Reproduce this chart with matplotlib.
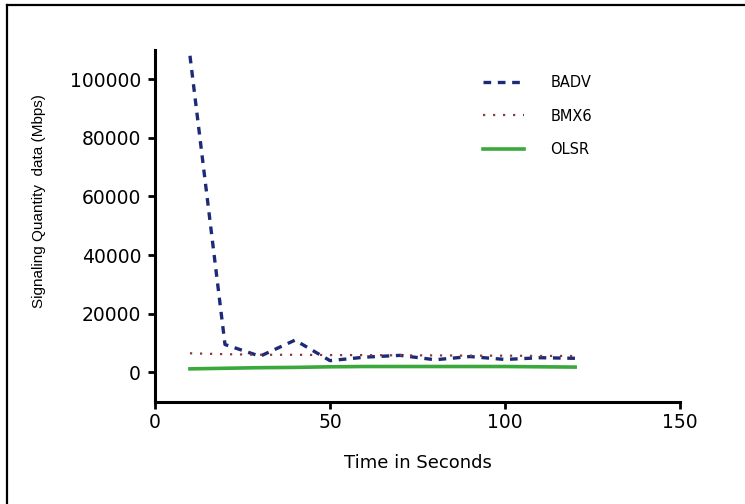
import matplotlib
matplotlib.use("Agg")
import matplotlib.pyplot as plt
from matplotlib.lines import Line2D

plt.rcParams['font.family'] = ['DejaVu Sans']

# Simulation time (s) and signalling overhead per protocol
time_s = [10, 20, 30, 40, 50, 60, 70, 80, 90, 100, 110, 120]
badv = [108000, 9500, 5500, 11000, 4000, 5200, 5800, 4300, 5400, 4400, 5000, 4800]
bmx6 = [6500, 6200, 6000, 6000, 5900, 5900, 5800, 5800, 5700, 5700, 5600, 5600]
olsr = [1200, 1400, 1600, 1700, 1900, 2000, 2000, 2000, 2000, 2000, 1900, 1800]

x_ticks = [0, 50, 100, 150]
y_ticks = [0, 20000, 40000, 60000, 80000, 100000]

fig = plt.figure(figsize=(7.45, 5.04), dpi=100)
ax = fig.add_axes([0.208, 0.203, 0.705, 0.698])

badv_style = dict(color='#1c2a78', lw=2.4, linestyle=(0, (2.3, 2.0)))
bmx6_style = dict(color='#8a3a3a', lw=1.6, linestyle=(0, (1, 3.5)))
olsr_style = dict(color='#3aa83a', lw=2.6)

ax.plot(time_s, badv, label='BADV', **badv_style)
ax.plot(time_s, bmx6, label='BMX6', **bmx6_style)
ax.plot(time_s, olsr, label='OLSR', **olsr_style)

ax.set_xlim(0, 150)
ax.set_ylim(-10000, 110000)
ax.set_xticks(x_ticks)
ax.set_yticks(y_ticks)
ax.set_xticklabels([str(v) for v in x_ticks])
ax.set_yticklabels([str(v) for v in y_ticks])

for side in ('top', 'right'):
    ax.spines[side].set_visible(False)
for side in ('left', 'bottom'):
    ax.spines[side].set_linewidth(2.2)
ax.tick_params(axis='both', direction='out', length=5, width=2.0,
               labelsize=13.5, colors='black')
ax.tick_params(axis='y', pad=5)
ax.tick_params(axis='x', pad=3)

ax.set_xlabel('Time in Seconds', fontsize=13, labelpad=16)
ax.set_ylabel('Signaling Quantity  data (Mbps)', fontsize=11,
              family=['Liberation Sans', 'DejaVu Sans'])
ax.yaxis.set_label_coords(-0.208, 0.57)

handles = [
    Line2D([], [], **badv_style),
    Line2D([], [], **bmx6_style),
    Line2D([], [], **olsr_style),
]
ax.legend(handles, ['BADV', 'BMX6', 'OLSR'], loc='upper left',
          bbox_to_anchor=(0.6, 0.965), frameon=False, fontsize=10.5,
          handlelength=2.8, labelspacing=1.25, handletextpad=1.8)

# Frame lines along the top and left edges of the figure
fig.add_artist(Line2D([7 / 745, 1.0], [1 - 5 / 504, 1 - 5 / 504],
                      transform=fig.transFigure, color='black', lw=1.6))
fig.add_artist(Line2D([7 / 745, 7 / 745], [0.0, 1 - 5 / 504],
                      transform=fig.transFigure, color='black', lw=1.6))

fig.savefig('out.png', dpi=100)
